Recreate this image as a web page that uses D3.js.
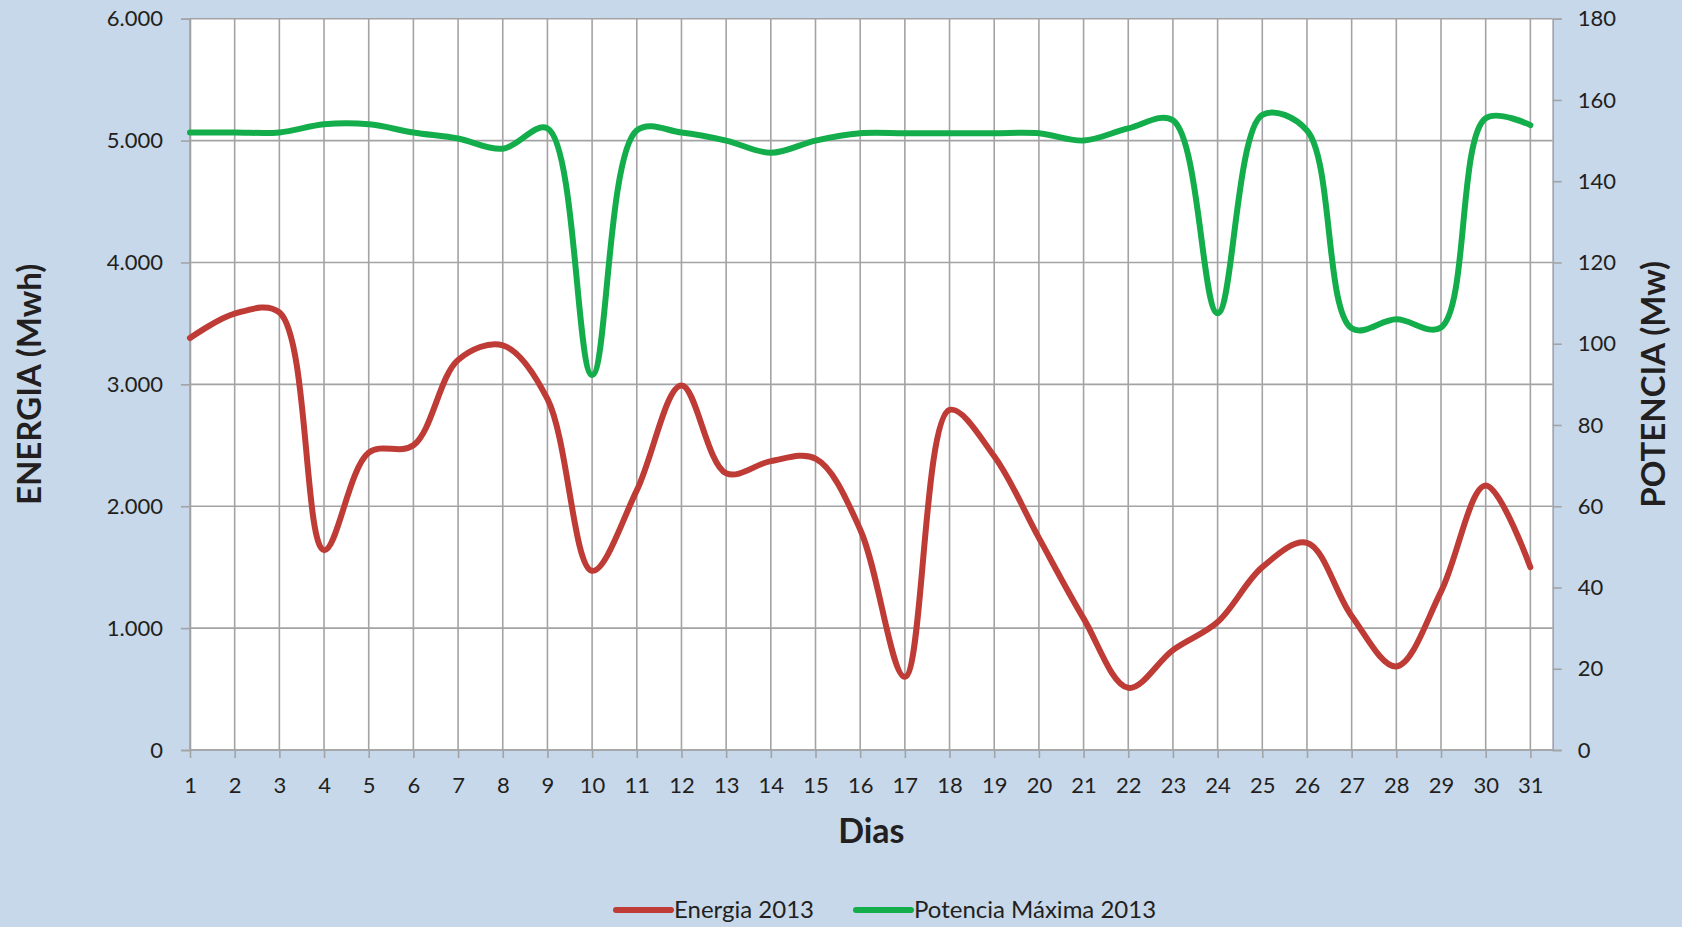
<!DOCTYPE html>
<html>
<head>
<meta charset="utf-8">
<script src="https://cdn.jsdelivr.net/npm/d3@7"></script>
<style>
  body { margin: 0; background: #c6d8ea; }
  svg { display: block; }
  text { font-family: Lato, "Open Sans", sans-serif; fill: #231f20; }
</style>
</head>
<body>
<div id="chart"></div>
<script>
// daily values
var days = d3.range(1, 32);
var energia = [3380, 3580, 3590, 1640, 2440, 2500, 3200, 3320, 2880, 1470,
               2130, 2990, 2270, 2370, 2390, 1810, 600, 2790, 2410, 1740,
               1080, 510, 820, 1050, 1500, 1700, 1100, 685, 1300, 2170, 1500];
var potencia = [152, 152, 152, 154, 154, 152, 150.5, 148, 153, 92.3,
                152.5, 152, 150, 147, 150, 151.8, 151.8, 151.8, 151.8, 151.8,
                150, 153, 155, 107.5, 156.3, 152.5, 103.8, 106, 104, 155.5, 153.8];
var leftTicks = [0, 1000, 2000, 3000, 4000, 5000, 6000];
var rightTicks = [0, 20, 40, 60, 80, 100, 120, 140, 160, 180];
var seriesNames = ["Energia 2013", "Potencia Máxima 2013"];
var colors = ["#be3b36", "#13ae4b"];

var svgWidth = 1682;
var svgHeight = 927;

var plot = { left: 190, top: 18.7, right: 1552.7, bottom: 750 };

var svg = d3.select("#chart")
            .append("svg")
                .attr("width", svgWidth)
                .attr("height", svgHeight);

svg.append("rect")
    .attr("width", svgWidth)
    .attr("height", svgHeight)
    .attr("fill", "#c6d8ea");

var x = d3.scaleLinear()
    .domain([1, 31.5])
    .range([plot.left, plot.right]);

var yLeft = d3.scaleLinear()
    .domain([0, 6000])
    .range([plot.bottom, plot.top]);

var yRight = d3.scaleLinear()
    .domain([0, 180])
    .range([plot.bottom, plot.top]);

svg.append("rect")
    .attr("x", plot.left)
    .attr("y", plot.top)
    .attr("width", plot.right - plot.left)
    .attr("height", plot.bottom - plot.top)
    .attr("fill", "#ffffff");

var gridColor = "#a3a3a6";

// vertical grid, one per day
svg.append("g").selectAll("line")
    .data(days)
    .enter().append("line")
    .attr("x1", d => x(d))
    .attr("x2", d => x(d))
    .attr("y1", plot.top)
    .attr("y2", plot.bottom)
    .attr("stroke", gridColor)
    .attr("stroke-width", 1.6);

// horizontal grid from left axis
svg.append("g").selectAll("line")
    .data(leftTicks)
    .enter().append("line")
    .attr("x1", plot.left)
    .attr("x2", plot.right)
    .attr("y1", d => yLeft(d))
    .attr("y2", d => yLeft(d))
    .attr("stroke", gridColor)
    .attr("stroke-width", 1.6);

function styleAxis(g) {
    g.select(".domain").attr("stroke", gridColor).attr("stroke-width", 1.6);
    g.selectAll(".tick line").attr("stroke", gridColor).attr("stroke-width", 1.6);
    g.selectAll(".tick text")
        .style("font-family", "Lato, 'Open Sans', sans-serif")
        .style("font-size", "22px")
        .attr("fill", "#231f20");
}

var fmt = d3.format(",");
var leftAxis = d3.axisLeft(yLeft)
    .tickValues(leftTicks)
    .tickSize(9)
    .tickPadding(18)
    .tickFormat(d => fmt(d).replace(/,/g, "."));

svg.append("g")
    .attr("transform", `translate(${plot.left}, 0)`)
    .call(leftAxis)
    .call(styleAxis);

var rightAxis = d3.axisRight(yRight)
    .tickValues(rightTicks)
    .tickSize(9)
    .tickPadding(16);

svg.append("g")
    .attr("transform", `translate(${plot.right}, 0)`)
    .call(rightAxis)
    .call(styleAxis);

var bottomAxis = d3.axisBottom(x)
    .tickValues(days)
    .tickSize(8)
    .tickPadding(19)
    .tickFormat(d3.format("d"));

var xAxis = svg.append("g")
    .attr("transform", `translate(0, ${plot.bottom})`)
    .call(bottomAxis)
    .call(styleAxis);
xAxis.select(".domain").attr("d", `M${plot.left},0H${plot.right}`);

// lines
var lineE = d3.line()
    .x((d, i) => x(days[i]))
    .y(d => yLeft(d))
    .curve(d3.curveCatmullRom.alpha(0.5));

var lineP = d3.line()
    .x((d, i) => x(days[i]))
    .y(d => yRight(d))
    .curve(d3.curveCatmullRom.alpha(0.5));

svg.append("path")
    .datum(potencia)
    .attr("d", lineP)
    .attr("fill", "none")
    .attr("stroke", colors[1])
    .attr("stroke-width", 6)
    .attr("stroke-linejoin", "round")
    .attr("stroke-linecap", "round");

svg.append("path")
    .datum(energia)
    .attr("d", lineE)
    .attr("fill", "none")
    .attr("stroke", colors[0])
    .attr("stroke-width", 6)
    .attr("stroke-linejoin", "round")
    .attr("stroke-linecap", "round");

// axis titles
svg.append("text")
    .attr("transform", `translate(29, ${(plot.top + plot.bottom) / 2}) rotate(-90)`)
    .attr("text-anchor", "middle")
    .attr("dy", "0.36em")
    .style("font-size", "33px")
    .style("font-weight", "bold")
    .text("ENERGIA (Mwh)");

svg.append("text")
    .attr("transform", `translate(1653, ${(plot.top + plot.bottom) / 2}) rotate(-90)`)
    .attr("text-anchor", "middle")
    .attr("dy", "0.36em")
    .style("font-size", "33px")
    .style("font-weight", "bold")
    .text("POTENCIA (Mw)");

svg.append("text")
    .attr("x", (plot.left + plot.right) / 2)
    .attr("y", 843)
    .attr("text-anchor", "middle")
    .style("font-size", "34px")
    .style("font-weight", "bold")
    .text("Dias");

// legend
var legendX = [615, 855];
var legend = svg.append("g").selectAll("g")
    .data(seriesNames)
    .enter().append("g")
    .attr("transform", (d, i) => `translate(${legendX[i]}, 910)`);

legend.append("line")
    .attr("x1", 1)
    .attr("x2", 56)
    .attr("stroke", (d, i) => colors[i])
    .attr("stroke-width", 6)
    .attr("stroke-linecap", "round");

legend.append("text")
    .attr("x", 59)
    .attr("y", 8)
    .style("font-size", "24px")
    .text(d => d);
</script>
</body>
</html>
